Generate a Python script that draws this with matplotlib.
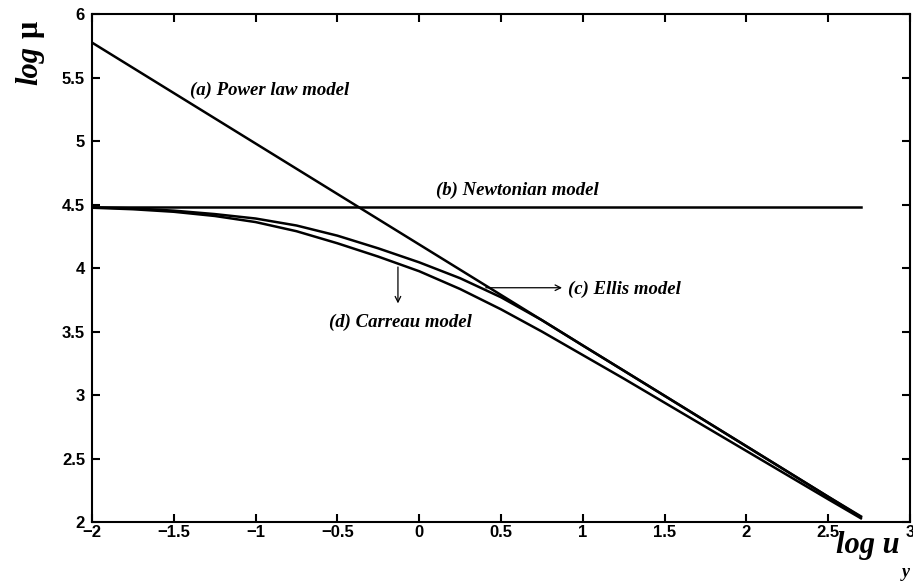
import matplotlib
matplotlib.use("Agg")
import matplotlib.pyplot as plt

x_power = [-2.0, 2.7]
y_power = [5.775, 2.04]

x_newton = [-2.0, 2.7]
y_newton = [4.478, 4.478]

x_model = [-2.0, -1.75, -1.5, -1.25, -1.0, -0.75, -0.5, -0.25, 0.0, 0.25, 0.5, 0.75, 1.0, 1.25, 1.5, 2.0, 2.5, 2.7]
y_ellis = [4.478, 4.47, 4.452, 4.425, 4.39, 4.335, 4.255, 4.155, 4.045, 3.92, 3.77, 3.59, 3.39, 3.193, 2.995, 2.598, 2.20, 2.045]
y_carreau = [4.475, 4.463, 4.443, 4.41, 4.362, 4.29, 4.195, 4.09, 3.975, 3.835, 3.675, 3.50, 3.315, 3.13, 2.94, 2.56, 2.18, 2.03]

x_ticks = [-2, -1.5, -1, -0.5, 0, 0.5, 1, 1.5, 2, 2.5, 3]
x_ticklabels = ['\u22122', '\u22121.5', '\u22121', '\u22120.5', '0', '0.5', '1', '1.5', '2', '2.5', '3']
y_ticks = [2, 2.5, 3, 3.5, 4, 4.5, 5, 5.5, 6]
y_ticklabels = ['2', '2.5', '3', '3.5', '4', '4.5', '5', '5.5', '6']

serif = {'family': 'Liberation Serif', 'style': 'italic', 'weight': 'bold'}

fig = plt.figure(figsize=(9.13, 5.84), dpi=100)
ax = fig.add_axes([0.1008, 0.106, 0.8959, 0.870])

lw = 1.8
ax.plot(x_power, y_power, color='black', lw=lw)
ax.plot(x_newton, y_newton, color='black', lw=lw)
ax.plot(x_model, y_ellis, color='black', lw=lw)
ax.plot(x_model, y_carreau, color='black', lw=lw)

ax.set_xlim(-2, 3)
ax.set_ylim(2, 6)
ax.set_xticks(x_ticks)
ax.set_xticklabels(x_ticklabels)
ax.set_yticks(y_ticks)
ax.set_yticklabels(y_ticklabels)
ax.tick_params(direction='in', top=True, right=True, length=6, width=1.5)
ax.tick_params(axis='y', pad=5)
ax.tick_params(axis='x', pad=2)
for lab in ax.get_xticklabels() + ax.get_yticklabels():
    lab.set_family('Liberation Sans')
    lab.set_fontweight('bold')
    lab.set_fontsize(12)
for sp in ax.spines.values():
    sp.set_linewidth(1.5)

# annotations
ax.text(-1.40, 5.40, '(a) Power law model', fontsize=13.5, va='center', ha='left', **serif)
ax.text(0.10, 4.61, '(b) Newtonian model', fontsize=13.5, va='center', ha='left', **serif)
ax.text(0.91, 3.835, '(c) Ellis model', fontsize=13.5, va='center', ha='left', **serif)
ax.text(-0.55, 3.575, '(d) Carreau model', fontsize=13.5, va='center', ha='left', **serif)

ax.annotate('', xy=(0.89, 3.845), xytext=(0.39, 3.845),
            arrowprops=dict(arrowstyle='->', color='black', lw=0.9))
ax.annotate('', xy=(-0.13, 3.70), xytext=(-0.13, 4.03),
            arrowprops=dict(arrowstyle='->', color='black', lw=0.9))

# axis labels
fig.text(0.033, 0.855, 'log', rotation=90, fontsize=22, ha='center', va='bottom', **serif)
fig.text(0.033, 0.935, '\u03bc', rotation=90, fontsize=22, ha='center', va='bottom',
         family='Liberation Serif', weight='bold')
fig.text(0.916, 0.066, 'log u', fontsize=22, ha='left', va='center', **serif)
fig.text(0.988, 0.005, 'y', fontsize=13, ha='left', va='bottom', **serif)

fig.savefig('out.png', dpi=100)
